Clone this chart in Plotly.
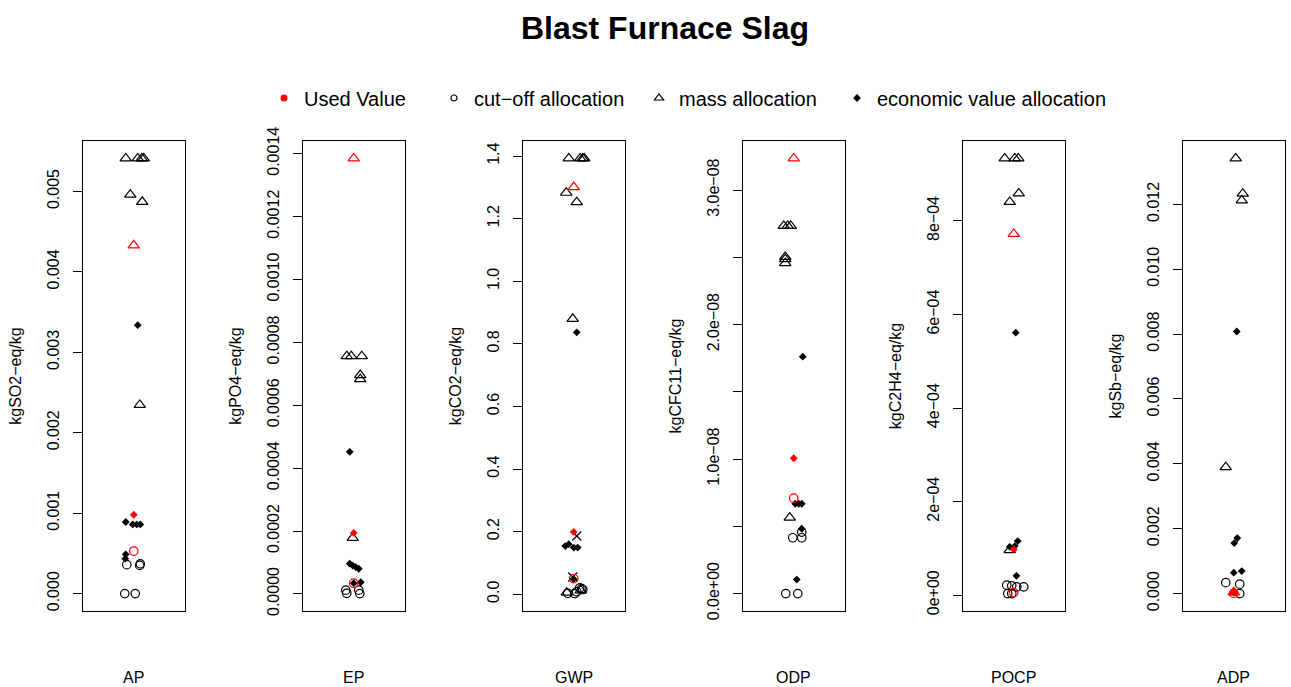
import plotly.graph_objects as go

W, H = 1291, 687

# ---------------- data ----------------
PANELS = ["AP", "EP", "GWP", "ODP", "POCP", "ADP"]
UNITS = ["kgSO2−eq/kg", "kgPO4−eq/kg", "kgCO2−eq/kg", "kgCFC11−eq/kg", "kgC2H4−eq/kg", "kgSb−eq/kg"]

# cut-off allocation (values, horizontal jitter in px)
AP_CUT = [0.00036, 0.00037, 0.00035, 0.0, 0.0]
AP_CUT_J = [-7, 6.5, 6, -9, 1.5]
EP_CUT = [0.000012, 0.000002, 0.000012, 0.000001]
EP_CUT_J = [-8, -7, 5, 6]
GWP_CUT = [0.003, 0.002, 0.008, 0.020, 0.018, 0.015]
GWP_CUT_J = [-6, 1, 3, 6, 8, 9]
ODP_CUT = [0.457e-8, 0.415e-8, 0.415e-8, 0.0, 0.0]
ODP_CUT_J = [8, 8, -1, -8, 4]
POCP_CUT = [0.214e-4, 0.200e-4, 0.178e-4, 0.178e-4, 0.034e-4, 0.034e-4]
POCP_CUT_J = [-7, -2, 3, 10, -6, -2]
ADP_CUT = [0.000338, 0.00029, 0.0]
ADP_CUT_J = [-8, 6, 6]

# mass allocation
AP_MASS = [0.00541, 0.00541, 0.00541, 0.00541, 0.00496, 0.00487, 0.002345]
AP_MASS_J = [-8, 4, 8, 10, -3.5, 8.5, 6]
EP_MASS = [0.000756, 0.000756, 0.000756, 0.000696, 0.000683, 0.000178]
EP_MASS_J = [-7, -2.5, 8, 6.5, 6.5, -1]
GWP_MASS = [1.3927, 1.3927, 1.3927, 1.3927, 1.283, 1.253, 0.880, 0.005, 0.012]
GWP_MASS_J = [-5, 6.5, 9, 10.5, -7.5, 3, -1, -7, 7]
ODP_MASS = [2.733e-8, 2.733e-8, 2.733e-8, 2.503e-8, 2.486e-8, 2.456e-8, 0.564e-8]
ODP_MASS_J = [-10, -6, -3, -8.5, -8.5, -8.5, -4]
POCP_MASS = [9.336e-4, 9.336e-4, 9.336e-4, 8.587e-4, 8.407e-4, 0.964e-4]
POCP_MASS_J = [-9, 1, 4.5, 5, -4, -4]
ADP_MASS = [0.013415, 0.01233, 0.01212, 0.003896]
ADP_MASS_J = [2, 9, 8, -8]

# economic value allocation
AP_ECON = [0.003337, 0.00089, 0.00086, 0.00086, 0.00086, 0.000488, 0.000434]
AP_ECON_J = [4, -8, -1, 3, 6.5, -8, -8.5]
EP_ECON = [0.000452, 0.000096, 0.00009, 0.000085, 0.00008, 0.000034, 0.000037]
EP_ECON_J = [-4, -4, -1, 2, 5, 0, 7]
GWP_ECON = [0.837, 0.154, 0.160, 0.149, 0.149, 0.048]
GWP_ECON_J = [3, -8.5, -5, 0, 4, 0]
ODP_ECON = [1.761e-8, 0.668e-8, 0.668e-8, 0.668e-8, 0.482e-8, 0.104e-8]
ODP_ECON_J = [9, 1.5, 5, 8, 8, 3]
POCP_ECON = [5.61e-4, 1.156e-4, 1.034e-4, 1.05e-4, 0.413e-4]
POCP_ECON_J = [2, 4, -4, 1, 2.7]
ADP_ECON = [0.00808, 0.00171, 0.001557, 0.000646, 0.000695]
ADP_ECON_J = [3, 3.5, 0.5, 0, 8]

# other (cross) markers, GWP only
GWP_OTHER = [0.186, 0.055]
GWP_OTHER_J = [3, -1]

# used values (red), per panel
USED_MASS = [0.00433, 0.001385, 1.301, 3.235e-8, 7.722e-4, 0.00004]
USED_ECON = [0.00098, 0.000194, 0.199, 1.006e-8, 0.977e-4, 0.00002]
USED_CUT = [0.000529, 0.000034, 0.050, 0.709e-8, 0.056e-4, 0.00001]

# y tick values / labels
AP_TICKS = [0.000, 0.001, 0.002, 0.003, 0.004, 0.005]
AP_TICKTEXT = ["0.000", "0.001", "0.002", "0.003", "0.004", "0.005"]
EP_TICKS = [0.0, 0.0002, 0.0004, 0.0006, 0.0008, 0.0010, 0.0012, 0.0014]
EP_TICKTEXT = ["0.0000", "0.0002", "0.0004", "0.0006", "0.0008", "0.0010", "0.0012", "0.0014"]
GWP_TICKS = [0.0, 0.2, 0.4, 0.6, 0.8, 1.0, 1.2, 1.4]
GWP_TICKTEXT = ["0.0", "0.2", "0.4", "0.6", "0.8", "1.0", "1.2", "1.4"]
ODP_TICKS = [0.0, 0.5e-8, 1.0e-8, 1.5e-8, 2.0e-8, 2.5e-8, 3.0e-8]
ODP_TICKTEXT = ["0.0e+00", "", "1.0e−08", "", "2.0e−08", "", "3.0e−08"]
POCP_TICKS = [0.0, 2e-4, 4e-4, 6e-4, 8e-4]
POCP_TICKTEXT = ["0e+00", "2e−04", "4e−04", "6e−04", "8e−04"]
ADP_TICKS = [0.000, 0.002, 0.004, 0.006, 0.008, 0.010, 0.012]
ADP_TICKTEXT = ["0.000", "0.002", "0.004", "0.006", "0.008", "0.010", "0.012"]

LEGEND_LABELS = ["Used Value", "cut−off allocation", "mass allocation", "economic value allocation"]
TITLE = "Blast Furnace Slag"

# ---------------- assembly ----------------
CUT = [(AP_CUT, AP_CUT_J), (EP_CUT, EP_CUT_J), (GWP_CUT, GWP_CUT_J),
       (ODP_CUT, ODP_CUT_J), (POCP_CUT, POCP_CUT_J), (ADP_CUT, ADP_CUT_J)]
MASS = [(AP_MASS, AP_MASS_J), (EP_MASS, EP_MASS_J), (GWP_MASS, GWP_MASS_J),
        (ODP_MASS, ODP_MASS_J), (POCP_MASS, POCP_MASS_J), (ADP_MASS, ADP_MASS_J)]
ECON = [(AP_ECON, AP_ECON_J), (EP_ECON, EP_ECON_J), (GWP_ECON, GWP_ECON_J),
        (ODP_ECON, ODP_ECON_J), (POCP_ECON, POCP_ECON_J), (ADP_ECON, ADP_ECON_J)]
OTHER = {2: (GWP_OTHER, GWP_OTHER_J)}
TICKS = [(AP_TICKS, AP_TICKTEXT), (EP_TICKS, EP_TICKTEXT), (GWP_TICKS, GWP_TICKTEXT),
         (ODP_TICKS, ODP_TICKTEXT), (POCP_TICKS, POCP_TICKTEXT), (ADP_TICKS, ADP_TICKTEXT)]

FONT = "Liberation Sans, Arial, sans-serif"
RED = "#FF0000"
LW = 1.2

SYM = {
    "cut": dict(symbol="circle-open", size=8.5),
    "mass": dict(symbol="triangle-up-open", size=10),
    "econ": dict(symbol="diamond", size=6),
    "other": dict(symbol="x-thin-open", size=9),
}

fig = go.Figure()
layout = {}

BOX_L0, BOX_STEP, BOX_W = 83, 220, 101.5
BOX_T, BOX_B = 141, 611

for i, name in enumerate(PANELS):
    sfx = "" if i == 0 else str(i + 1)
    xa, ya = "x" + sfx, "y" + sfx
    groups = [("cut", CUT[i]), ("mass", MASS[i]), ("econ", ECON[i])]
    if i in OTHER:
        groups.append(("other", OTHER[i]))
    allv = []
    for key, (vals, jit) in groups:
        allv += vals
        s = SYM[key]
        mk = dict(symbol=s["symbol"], size=s["size"], color="black",
                  line=dict(color="black", width=LW))
        if key == "econ":
            mk["line"] = dict(width=0)
        fig.add_trace(go.Scatter(x=jit, y=vals, mode="markers", marker=mk,
                                 xaxis=xa, yaxis=ya, showlegend=False,
                                 cliponaxis=False, hoverinfo="y"))
    used = [("mass", USED_MASS[i]), ("econ", USED_ECON[i]), ("cut", USED_CUT[i])]
    for key, v in used:
        allv.append(v)
        s = SYM[key]
        sym = s["symbol"]
        if name == "ADP" and key == "mass":
            sym = "triangle-up"
        mk = dict(symbol=sym, size=s["size"], color=RED, line=dict(color=RED, width=LW))
        if key == "econ":
            mk["line"] = dict(width=0)
        fig.add_trace(go.Scatter(x=[0], y=[v], mode="markers", marker=mk,
                                 xaxis=xa, yaxis=ya, showlegend=False,
                                 cliponaxis=False, hoverinfo="y"))
    lo, hi = min(allv), max(allv)
    pad = 0.04 * (hi - lo)
    left = BOX_L0 + BOX_STEP * i
    xdom = [left / W, (left + BOX_W) / W]
    ydom = [(H - BOX_B) / H, (H - BOX_T) / H]
    tv, tt = TICKS[i]
    layout["xaxis" + sfx] = dict(domain=xdom, range=[-BOX_W / 2, BOX_W / 2], anchor=ya,
                                 showgrid=False, zeroline=False, showticklabels=False,
                                 ticks="", showline=True, mirror=True,
                                 linecolor="black", linewidth=1, automargin=False)
    layout["yaxis" + sfx] = dict(domain=ydom, range=[lo - pad, hi + pad], anchor=xa,
                                 showgrid=False, zeroline=False, showline=True, mirror=True,
                                 linecolor="black", linewidth=1, automargin=False,
                                 ticks="outside", ticklen=9, tickwidth=1, tickcolor="black",
                                 tickvals=tv, ticktext=tt, tickangle=-90,
                                 ticklabelstandoff=8,
                                 tickfont=dict(size=16, color="black", family=FONT),
                                 title=dict(text=UNITS[i], standoff=18,
                                            font=dict(size=16, color="black", family=FONT)))
    fig.add_annotation(text=name, xref=xa + " domain", yref="paper", x=0.5,
                       y=(H - 677) / H, xanchor="center", yanchor="middle",
                       showarrow=False, font=dict(size=16, color="black", family=FONT))

# legend entries (one legend each, placed like the reference)
LEG_MARKERS = [
    dict(symbol="circle", size=7, color=RED, line=dict(width=0)),
    dict(symbol="circle-open", size=6, color="black", line=dict(color="black", width=1.2)),
    dict(symbol="triangle-up-open", size=8, color="black", line=dict(color="black", width=1.2)),
    dict(symbol="diamond", size=6, color="black", line=dict(width=0)),
]
LEG_X = [286, 456, 661, 859]
for k, lab in enumerate(LEGEND_LABELS):
    lname = "legend" if k == 0 else "legend" + str(k + 1)
    fig.add_trace(go.Scatter(x=[None], y=[None], mode="markers", name=lab,
                             marker=LEG_MARKERS[k], legend=lname, showlegend=True))
    layout[lname] = dict(x=(LEG_X[k] - 22) / W, xanchor="left", y=1 - 98 / H, yanchor="middle",
                         bgcolor="rgba(0,0,0,0)", borderwidth=0, itemwidth=30,
                         font=dict(size=20, color="black", family=FONT))

fig.update_layout(
    width=W, height=H, autosize=False,
    margin=dict(l=0, r=0, t=0, b=0, pad=0, autoexpand=False),
    paper_bgcolor="white", plot_bgcolor="white",
    font=dict(family=FONT, color="black"),
    title=dict(text="<b>" + TITLE + "</b>", x=665 / W, xanchor="center", xref="paper",
               y=1 - 28 / H, yanchor="middle", yref="paper", automargin=False,
               font=dict(size=32, color="black", family=FONT)),
    **layout,
)

fig.write_html("out.html")
